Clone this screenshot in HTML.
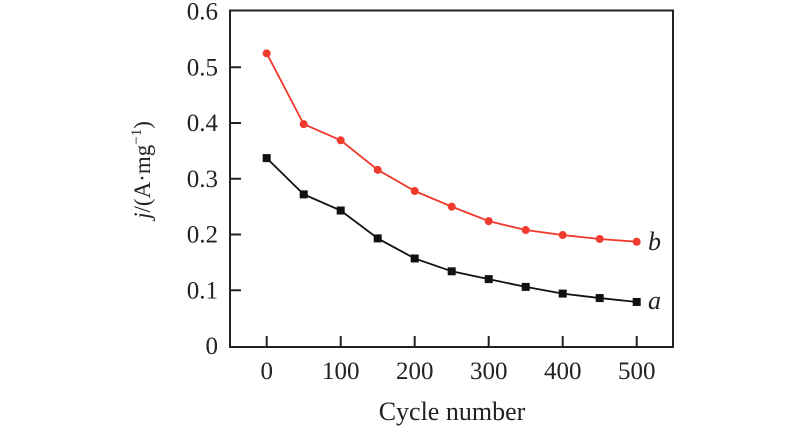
<!DOCTYPE html>
<html><head><meta charset="utf-8"><style>
body{margin:0;background:#fff}
text{font-family:"Liberation Serif",serif;fill:#222}
</style></head><body>
<svg id="chart" width="800" height="443" xmlns="http://www.w3.org/2000/svg">
<rect x="230" y="10.5" width="443" height="336.5" fill="none" stroke="#222" stroke-width="2"/>
<g id="axes"></g>
<g id="series"></g>
<text x="452" y="420" font-size="26" text-anchor="middle">Cycle number</text>
<text transform="translate(150,170) rotate(-90)" font-size="23" text-anchor="middle"><tspan font-style="italic">j</tspan>/(A·mg<tspan font-size="15" dy="-9">−1</tspan><tspan dy="9">)</tspan></text>
<text x="648" y="309" font-size="26" font-style="italic">a</text>
<text x="648" y="250" font-size="26" font-style="italic">b</text>
</svg>
<script>
const cycles=[0,50,100,150,200,250,300,350,400,450,500];
const seriesA=[0.337,0.272,0.243,0.193,0.157,0.134,0.120,0.106,0.094,0.086,0.079];
const seriesB=[0.525,0.398,0.369,0.316,0.278,0.250,0.224,0.208,0.199,0.192,0.187];
const xTicks=[0,100,200,300,400,500];
const yTicks=[0,0.1,0.2,0.3,0.4,0.5,0.6];
const yTickLabels=["0","0.1","0.2","0.3","0.4","0.5","0.6"];
const NS="http://www.w3.org/2000/svg";
const X=v=>266.7+v*0.74;
const Y=v=>346-v*557.5;
function mk(tag,attrs,parent){const e=document.createElementNS(NS,tag);for(const k in attrs)e.setAttribute(k,attrs[k]);parent.appendChild(e);return e;}
const ax=document.getElementById('axes');
xTicks.forEach(t=>{
  const l=mk('line',{x1:X(t),x2:X(t),y1:347,y2:336,stroke:'#222','stroke-width':2},ax);
  
  
  const tx=mk('text',{x:X(t),y:379,'font-size':25,'text-anchor':'middle'},ax);
  tx.textContent=t;
  
  
});
yTicks.forEach((t,i)=>{
  if(t>0&&t<0.6){
    const l=mk('line',{x1:230,x2:241,y1:Y(t),y2:Y(t),stroke:'#222','stroke-width':2},ax);
    
    
  }
  const tx=mk('text',{x:218,y:Y(t)+8,'font-size':25,'text-anchor':'end'},ax);
  tx.textContent=yTickLabels[i];
  
  
});
const sg=document.getElementById('series');
function draw(vals,color,square,name){
  const p=mk('polyline',{points:vals.map((v,i)=>X(cycles[i])+','+Y(v)).join(' '),fill:'none',stroke:color,'stroke-width':1.8},sg);
  
  
  vals.forEach((v,i)=>{
    let m;
    if(square) m=mk('rect',{x:X(cycles[i])-4,y:Y(v)-4,width:8,height:8,fill:color},sg);
    else m=mk('circle',{cx:X(cycles[i]),cy:Y(v),r:4,fill:color},sg);
    
    
  });
}
draw(seriesB,'#f03a2e',false,'series-b');
draw(seriesA,'#111',true,'series-a');
</script>
</body></html>
